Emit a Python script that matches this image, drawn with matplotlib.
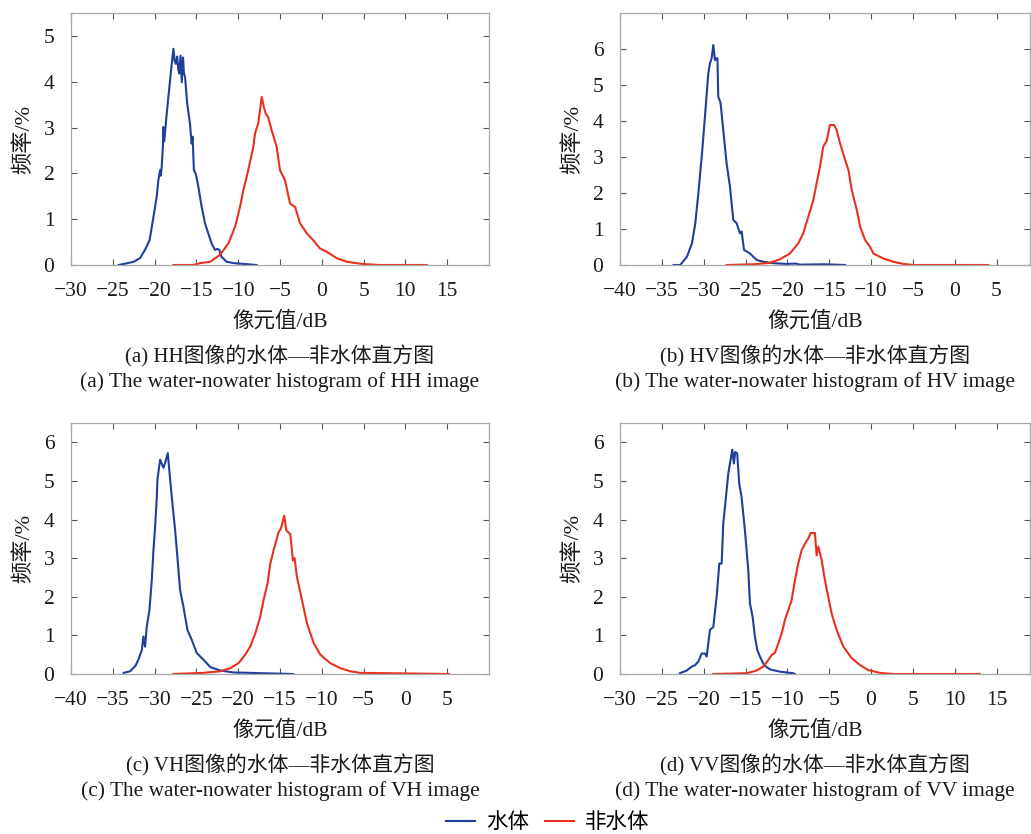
import matplotlib
matplotlib.use('Agg')
import matplotlib.pyplot as plt

plt.rcParams['font.family'] = ['Liberation Serif', 'Noto Sans CJK SC']
plt.rcParams['axes.unicode_minus'] = True

# ---- data (x in dB, y in %) ----
hh_water_db = [-24.3, -23.5, -22.5, -21.75, -21.15, -20.6, -20.2, -19.75, -19.55, -19.35, -19.25, -19.15,
               -19.0, -18.95, -18.85, -18.55, -18.35, -18.15, -17.95, -17.75, -17.6, -17.45, -17.3, -17.15,
               -17.05, -16.9, -16.75, -16.6, -16.5, -16.35, -16.1, -15.77, -15.57, -15.45, -15.3, -15.1,
               -14.97, -14.77, -14.37, -13.97, -13.58, -13.18, -12.78, -12.5, -12.26, -12.0, -11.38, -10.5,
               -9.8, -8.4, -7.8]
hh_water_freq = [0.0, 0.03, 0.07, 0.15, 0.33, 0.54, 0.98, 1.49, 1.85, 2.07, 1.95, 2.15,
                 2.61, 3.01, 2.7, 3.30, 3.67, 4.03, 4.39, 4.72, 4.45, 4.39, 4.55, 4.25,
                 4.18, 4.57, 3.99, 4.53, 4.2, 4.09, 3.52, 3.09, 2.65, 2.8, 2.07, 2.0,
                 1.9, 1.71, 1.27, 0.91, 0.69, 0.47, 0.33, 0.35, 0.33, 0.18, 0.07, 0.04,
                 0.03, 0.01, 0.0]
hh_land_db = [-17.75, -15.37, -14.57, -13.37, -12.18, -11.18, -10.38, -9.78, -9.39, -8.99, -8.59, -8.19,
              -7.99, -7.6, -7.19, -6.93, -6.7, -6.42, -6.0, -5.4, -5.0, -4.4, -3.8, -3.2, -2.6, -1.8,
              -1.02, -0.22, 0.58, 1.78, 2.98, 4.97, 6.96, 12.55]
hh_land_freq = [0, 0.0, 0.04, 0.07, 0.22, 0.47, 0.83, 1.27, 1.63, 1.92, 2.25, 2.58,
                2.87, 3.09, 3.67, 3.45, 3.30, 3.23, 2.94, 2.58, 2.07, 1.85, 1.34, 1.27, 0.91, 0.69,
                0.54, 0.36, 0.29, 0.15, 0.07, 0.02, 0.0, 0.0]

hv_water_db = [-33.6, -32.8, -32.0, -31.4, -31.0, -30.6, -30.2, -29.8, -29.45, -29.25, -29.05, -28.85,
               -28.65, -28.5, -28.35, -28.26, -27.98, -27.66, -27.26, -26.86, -26.46, -26.06, -25.66,
               -25.46, -25.18, -24.47, -23.67, -22.87, -21.68, -20.1, -19.0, -18.5, -15.5, -13.1]
hv_water_freq = [0, 0, 0.23, 0.6, 1.16, 2.08, 3.1, 4.26, 5.32, 5.6, 5.74, 6.11,
                 5.69, 5.74, 5.74, 4.68, 4.5, 3.75, 2.82, 2.18, 1.25, 1.16, 0.88,
                 0.93, 0.42, 0.32, 0.14, 0.09, 0.05, 0.03, 0.04, 0.01, 0.02, 0.0]
hv_land_db = [-27.25, -24.07, -22.08, -20.88, -19.69, -18.7, -18.1, -17.5, -16.9, -16.5, -16.1, -15.71,
              -15.31, -14.91, -14.43, -14.11, -13.7, -13.1, -12.7, -12.3, -11.7, -11.3, -10.7, -10.1,
              -9.72, -8.52, -7.33, -6.13, -4.9, 4.0]
hv_land_freq = [0, 0.02, 0.06, 0.16, 0.32, 0.6, 0.88, 1.34, 1.8, 2.27, 2.73, 3.29,
                3.44, 3.89, 3.89, 3.75, 3.38, 2.92, 2.64, 2.08, 1.53, 1.06, 0.69, 0.5,
                0.32, 0.18, 0.09, 0.03, 0.0, 0.0]

vh_water_db = [-33.7, -32.93, -32.3, -31.94, -31.53, -31.34, -31.14, -30.94, -30.62, -30.34, -30.14,
               -29.94, -29.74, -29.66, -29.34, -28.94, -28.74, -28.42, -28.23, -27.94, -27.54, -27.27,
               -26.95, -26.55, -26.07, -25.55, -24.95, -24.15, -23.35, -22.15, -20.56, -13.4]
vh_water_freq = [0.03, 0.07, 0.21, 0.37, 0.62, 0.97, 0.71, 1.22, 1.65, 2.42, 3.2,
                 3.8, 4.57, 5.04, 5.55, 5.34, 5.47, 5.72, 5.25, 4.57, 3.71, 3.02,
                 2.17, 1.74, 1.14, 0.88, 0.54, 0.37, 0.18, 0.09, 0.04, 0.0]
vh_land_db = [-27.75, -24.16, -22.16, -20.96, -19.96, -19.16, -18.56, -17.96, -17.37, -16.97, -16.49,
              -16.17, -15.77, -15.17, -14.9, -14.49, -14.25, -13.77, -13.45, -13.25, -12.97, -12.37,
              -11.77, -10.97, -10.18, -8.98, -7.78, -6.59, -5.4, 5.19]
vh_land_freq = [0, 0.03, 0.07, 0.15, 0.28, 0.5, 0.71, 1.05, 1.48, 1.91, 2.34,
                2.85, 3.2, 3.67, 3.76, 4.1, 3.72, 3.62, 2.94, 3.0, 2.51, 1.91,
                1.31, 0.8, 0.5, 0.28, 0.15, 0.07, 0.03, 0.0]

vv_water_db = [-22.83, -22.03, -21.43, -21.03, -20.64, -20.24, -19.84, -19.64, -19.25, -18.85, -18.45,
               -18.13, -17.85, -17.66, -17.34, -17.06, -16.86, -16.58, -16.39, -16.23, -15.99, -15.75,
               -15.47, -15.07, -14.67, -14.47, -14.15, -13.87, -13.59, -13.27, -12.79, -12.08, -10.88,
               -9.29, -9.1]
vv_water_freq = [0.02, 0.09, 0.19, 0.23, 0.32, 0.53, 0.53, 0.45, 1.14, 1.22, 2.0,
                 2.86, 2.86, 3.89, 4.58, 5.19, 5.45, 5.81, 5.45, 5.75, 5.71, 4.93,
                 4.58, 3.72, 2.69, 1.83, 1.48, 0.96, 0.62, 0.45, 0.23, 0.12, 0.06,
                 0.02, 0.0]
vv_land_db = [-18.85, -14.86, -13.67, -12.88, -12.28, -11.88, -11.48, -11.08, -10.68, -10.29, -9.89,
              -9.49, -9.09, -8.7, -8.3, -7.9, -7.5, -7.22, -6.7, -6.5, -6.3, -5.9, -5.51, -5.11,
              -4.71, -4.11, -3.31, -2.31, -1.3, -0.33, 1.06, 2.66, 13.0]
vv_land_freq = [0, 0.02, 0.09, 0.19, 0.36, 0.49, 0.55, 0.79, 1.05, 1.4, 1.65,
                1.91, 2.43, 2.86, 3.2, 3.37, 3.51, 3.65, 3.65, 3.07, 3.3, 2.95, 2.43, 2.0,
                1.57, 1.14, 0.71, 0.41, 0.23, 0.1, 0.03, 0.0, 0.0]

captions_cn = ['(a) HH图像的水体—非水体直方图', '(b) HV图像的水体—非水体直方图',
               '(c) VH图像的水体—非水体直方图', '(d) VV图像的水体—非水体直方图']
captions_en = ['(a) The water-nowater histogram of HH image', '(b) The water-nowater histogram of HV image',
               '(c) The water-nowater histogram of VH image', '(d) The water-nowater histogram of VV image']
legend_labels = ['水体', '非水体']

BLUE = '#1f3f9a'
RED = '#e8301e'
TXT = '#1a1a1a'
W, H = 1031, 834

fig = plt.figure(figsize=(W / 100, H / 100), dpi=100)

# (left px, bottom px, right px, top px, xlim, ylim, yticks, xticks, ..., caption centre px)
panels = [
    (71, 265, 489, 13, (-30, 20), (0, 5.5), range(0, 6), range(-30, 20, 5),
     hh_water_db, hh_water_freq, hh_land_db, hh_land_freq, 280),
    (620, 265, 1030, 13, (-40, 9), (0, 7), range(0, 7), range(-40, 10, 5),
     hv_water_db, hv_water_freq, hv_land_db, hv_land_freq, 815),
    (71, 674, 489, 423, (-40, 10), (0, 6.5), range(0, 7), range(-40, 10, 5),
     vh_water_db, vh_water_freq, vh_land_db, vh_land_freq, 280),
    (620, 674, 1030, 423, (-30, 19), (0, 6.5), range(0, 7), range(-30, 20, 5),
     vv_water_db, vv_water_freq, vv_land_db, vv_land_freq, 815),
]

lines = []
for i, (l, b, r, t, xl, yl, yt, xt, wx, wy, lx, ly, cx) in enumerate(panels):
    ax = fig.add_axes([l / W, 1 - b / H, (r - l) / W, (b - t) / H])
    h1, = ax.plot(wx, wy, color=BLUE, lw=1.5)
    h2, = ax.plot(lx, ly, color=RED, lw=1.5)
    lines = [h1, h2]
    ax.set_xlim(*xl)
    ax.set_ylim(*yl)
    ax.set_xticks(list(xt))
    ax.set_yticks(list(yt))
    for s in ax.spines.values():
        s.set_color('#a8a8a8')
        s.set_linewidth(0.9)
    ax.tick_params(direction='in', top=True, right=True, length=4, width=0.8,
                   color='#555555', labelsize=15.5, labelcolor=TXT)
    ax.tick_params(axis='x', pad=12)
    ax.tick_params(axis='y', pad=12)
    ax.set_ylabel('频率/%', fontsize=16, color=TXT, labelpad=7)
    fig.text(cx / W, 1 - (b + 56) / H, '像元值/dB', ha='center', va='center', fontsize=15.5, color=TXT)
    fig.text(cx / W, 1 - (b + 91) / H, captions_cn[i], ha='center', va='center', fontsize=15, color=TXT)
    fig.text(cx / W, 1 - (b + 117) / H, captions_en[i], ha='center', va='center', fontsize=15.4,
             color=TXT)

fig.legend(lines, legend_labels, loc='center', bbox_to_anchor=(548 / W, 1 - 823 / H), ncol=2,
           frameon=False, fontsize=15.5, handlelength=1.35, columnspacing=0.75, handletextpad=0.5)

fig.savefig('out.png', dpi=100)
